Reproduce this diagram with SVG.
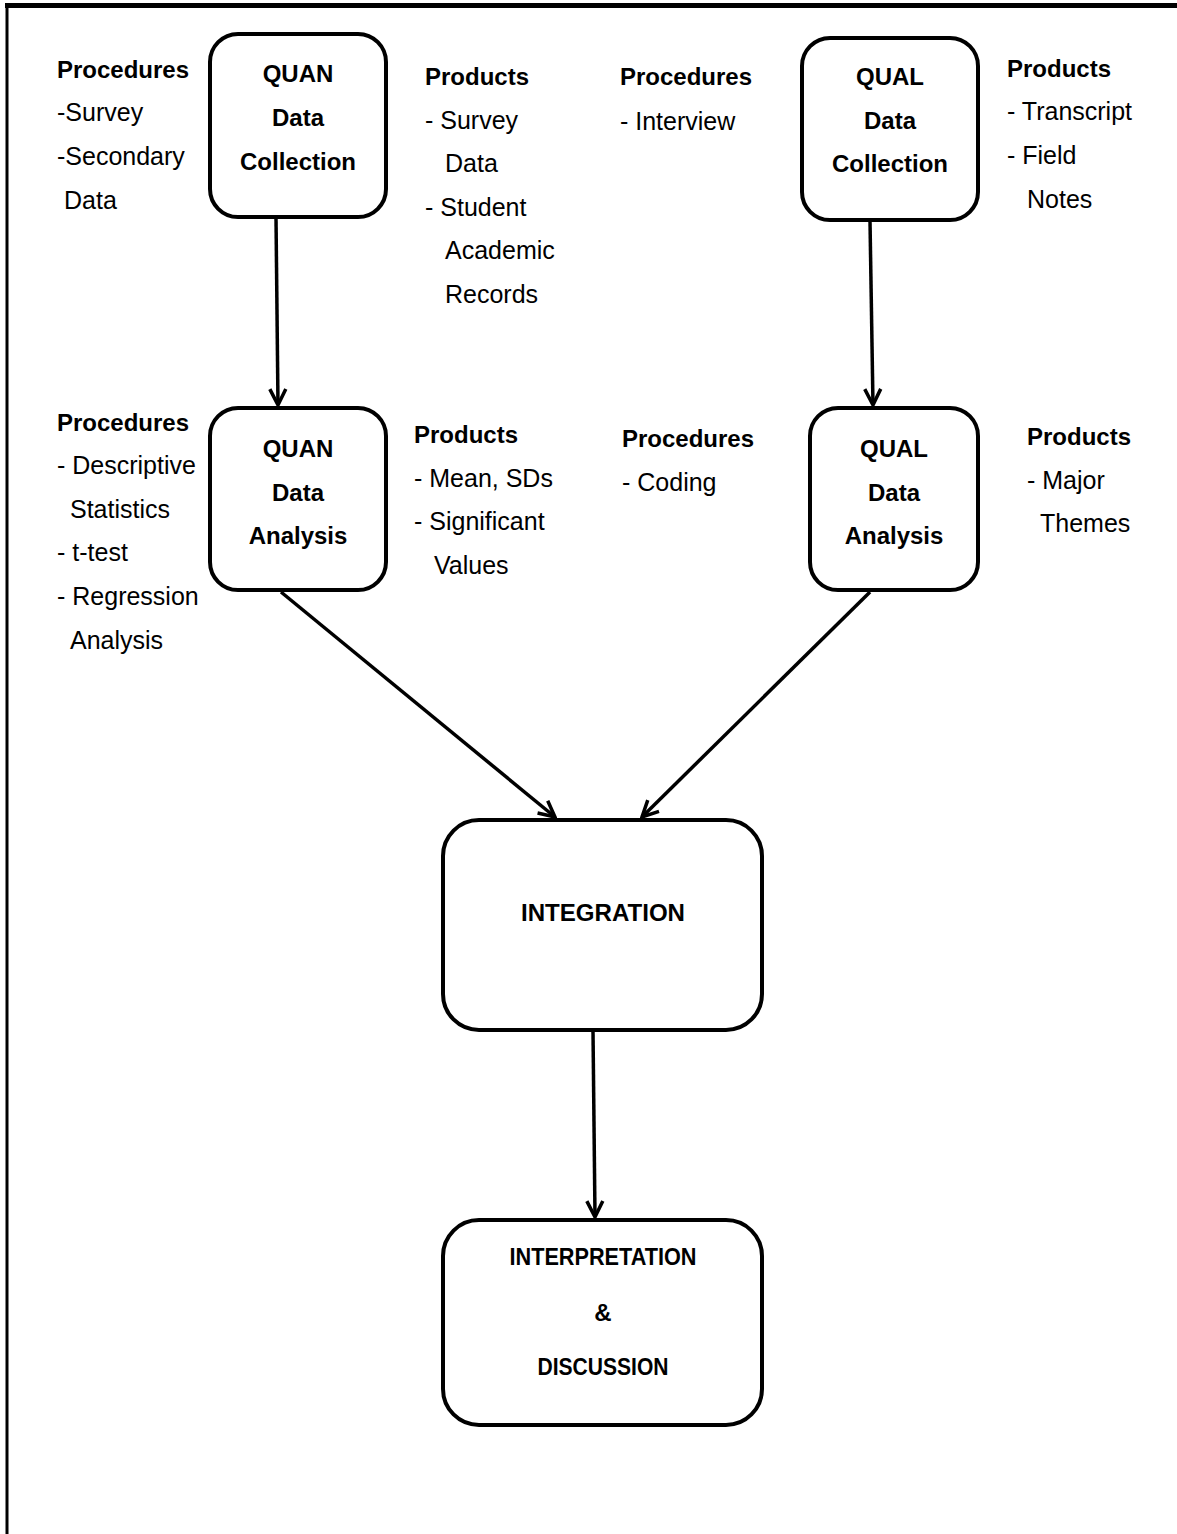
<svg xmlns="http://www.w3.org/2000/svg" width="1177" height="1534" viewBox="0 0 1177 1534">
<style>
.box{fill:#fff;stroke:#000;stroke-width:4}
.b{font-family:"Liberation Sans",Arial,sans-serif;font-weight:bold;font-size:24px;fill:#000}
.r{font-family:"Liberation Sans",Arial,sans-serif;font-size:25px;fill:#000}
.c{text-anchor:middle}
.conn{stroke:#000;stroke-width:3.5;fill:none;marker-end:url(#arr)}
</style>
<defs>
<marker id="arr" viewBox="0 0 20 20" refX="18" refY="10" markerWidth="20" markerHeight="20" markerUnits="userSpaceOnUse" orient="auto">
<path d="M2,2 L18,10 L2,18" fill="none" stroke="#000" stroke-width="3.5" stroke-linejoin="miter"/>
</marker>
</defs>
<rect x="0" y="0" width="1177" height="1534" fill="#fff"/>
<g id="frame">
<line x1="5" y1="5.5" x2="1177" y2="5.5" stroke="#000" stroke-width="5"/>
<line x1="7" y1="3" x2="7" y2="1534" stroke="#000" stroke-width="3"/>
</g>

<g id="connectors">
<line class="conn" x1="276" y1="218" x2="278" y2="405"/>
<line class="conn" x1="870" y1="221" x2="873" y2="405"/>
<line class="conn" x1="281" y1="592" x2="555" y2="817"/>
<line class="conn" x1="870" y1="592" x2="642" y2="817"/>
<line class="conn" x1="593" y1="1031" x2="595" y2="1217"/>
</g>

<g id="quan-collection">
<rect class="box" x="210" y="34" width="176" height="183" rx="28"/>
<text class="b c" x="298" y="82">QUAN</text>
<text class="b c" x="298" y="126">Data</text>
<text class="b c" x="298" y="170">Collection</text>
</g>
<g id="quan-collection-procedures">
<text class="b" x="57" y="78">Procedures</text>
<text class="r" x="57" y="121">-Survey</text>
<text class="r" x="57" y="165">-Secondary</text>
<text class="r" x="64" y="209">Data</text>
</g>
<g id="quan-collection-products">
<text class="b" x="425" y="85">Products</text>
<text class="r" x="425" y="129">- Survey</text>
<text class="r" x="445" y="172">Data</text>
<text class="r" x="425" y="216">- Student</text>
<text class="r" x="445" y="259">Academic</text>
<text class="r" x="445" y="303">Records</text>
</g>

<g id="qual-collection">
<rect class="box" x="802" y="38" width="176" height="182" rx="28"/>
<text class="b c" x="890" y="85">QUAL</text>
<text class="b c" x="890" y="129">Data</text>
<text class="b c" x="890" y="172">Collection</text>
</g>
<g id="qual-collection-procedures">
<text class="b" x="620" y="85">Procedures</text>
<text class="r" x="620" y="130">- Interview</text>
</g>
<g id="qual-collection-products">
<text class="b" x="1007" y="77">Products</text>
<text class="r" x="1007" y="120">- Transcript</text>
<text class="r" x="1007" y="164">- Field</text>
<text class="r" x="1027" y="208">Notes</text>
</g>

<g id="quan-analysis">
<rect class="box" x="210" y="408" width="176" height="182" rx="28"/>
<text class="b c" x="298" y="457">QUAN</text>
<text class="b c" x="298" y="501">Data</text>
<text class="b c" x="298" y="544">Analysis</text>
</g>
<g id="quan-analysis-procedures">
<text class="b" x="57" y="431">Procedures</text>
<text class="r" x="57" y="474">- Descriptive</text>
<text class="r" x="70" y="518">Statistics</text>
<text class="r" x="57" y="561">- t-test</text>
<text class="r" x="57" y="605">- Regression</text>
<text class="r" x="70" y="649">Analysis</text>
</g>
<g id="quan-analysis-products">
<text class="b" x="414" y="443">Products</text>
<text class="r" x="414" y="487">- Mean, SDs</text>
<text class="r" x="414" y="530">- Significant</text>
<text class="r" x="434" y="574">Values</text>
</g>

<g id="qual-analysis">
<rect class="box" x="810" y="408" width="168" height="182" rx="28"/>
<text class="b c" x="894" y="457">QUAL</text>
<text class="b c" x="894" y="501">Data</text>
<text class="b c" x="894" y="544">Analysis</text>
</g>
<g id="qual-analysis-procedures">
<text class="b" x="622" y="447">Procedures</text>
<text class="r" x="622" y="491">- Coding</text>
</g>
<g id="qual-analysis-products">
<text class="b" x="1027" y="445">Products</text>
<text class="r" x="1027" y="489">- Major</text>
<text class="r" x="1040" y="532">Themes</text>
</g>

<g id="integration">
<rect class="box" x="443" y="820" width="319" height="210" rx="36"/>
<text class="b c" x="603" y="921" textLength="164" lengthAdjust="spacingAndGlyphs">INTEGRATION</text>
</g>

<g id="interpretation">
<rect class="box" x="443" y="1220" width="319" height="205" rx="36"/>
<text class="b c" x="603" y="1265" textLength="187" lengthAdjust="spacingAndGlyphs">INTERPRETATION</text>
<text class="b c" x="603" y="1321">&amp;</text>
<text class="b c" x="603" y="1375" textLength="131" lengthAdjust="spacingAndGlyphs">DISCUSSION</text>
</g>
</svg>
